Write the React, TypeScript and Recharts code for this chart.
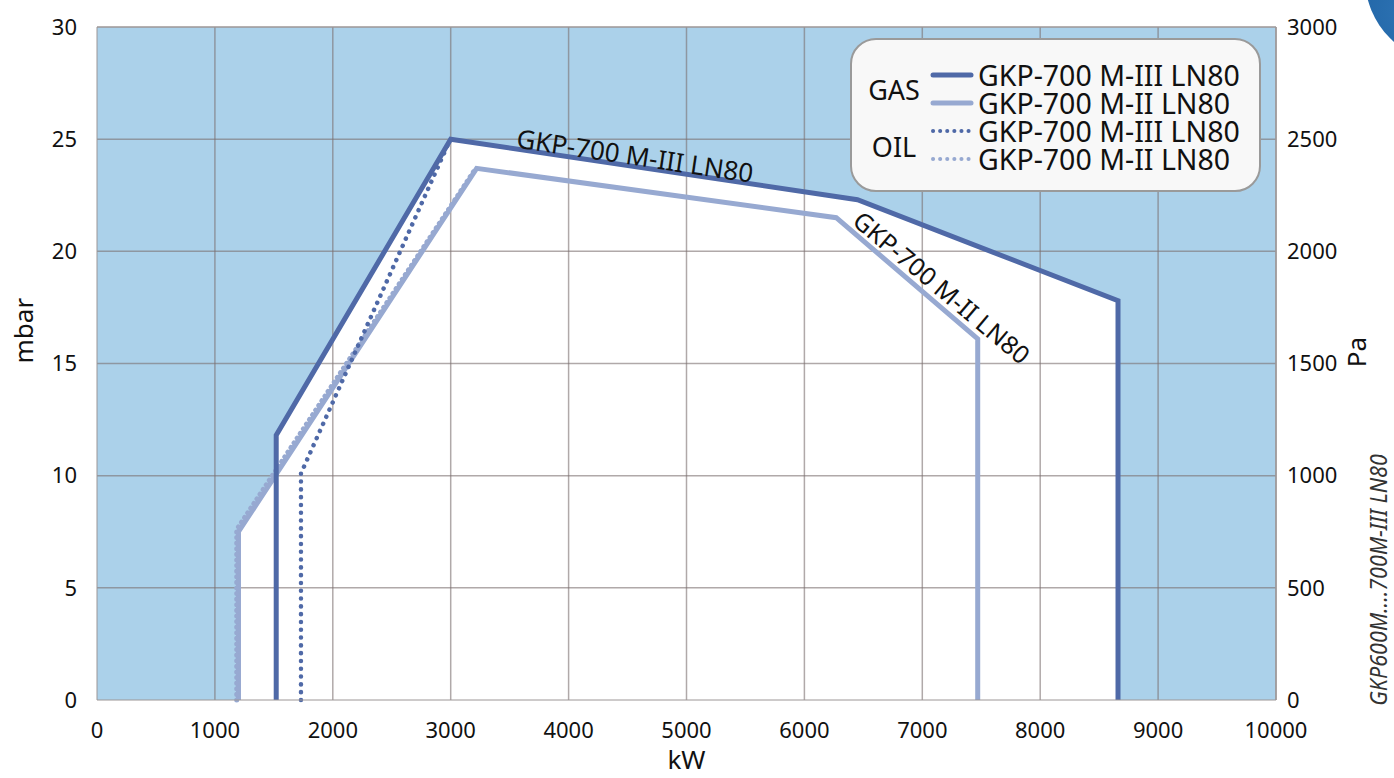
import React from 'react';
import {
  ComposedChart, Line, Area, XAxis, YAxis, CartesianGrid, ReferenceLine, ReferenceDot,
} from 'recharts';

// kW / mbar
const gasM3Kw = [1520, 1520, 3000, 6450, 8660, 8660];
const gasM3Mbar = [0, 11.8, 25, 22.3, 17.8, 0];
const gasM2Kw = [1200, 1200, 3220, 6270, 7470, 7470];
const gasM2Mbar = [0, 7.5, 23.7, 21.5, 16.1, 0];
const oilM3Kw = [1730, 1730, 2980];
const oilM3Mbar = [0, 10.1, 24.8];
const oilM2Kw = [1185, 1185, 3200];
const oilM2Mbar = [0, 7.6, 23.6];

const kwTicks = [0, 1000, 2000, 3000, 4000, 5000, 6000, 7000, 8000, 9000, 10000];
const mbarTicks = [0, 5, 10, 15, 20, 25, 30];
const paTicks = [0, 500, 1000, 1500, 2000, 2500, 3000];

const DARK = '#4f69a7';
const LIGHT = '#97a9d1';
const BG = '#abd1ea';
const FONT = '"Noto Sans", "Open Sans", sans-serif';

const toPts = (kw: number[], mbar: number[]) => kw.map((x, i) => ({ kw: x, mbar: mbar[i] }));

// white working field = union of both gas envelopes
const m2Slope = (gasM2Mbar[2] - gasM2Mbar[1]) / (gasM2Kw[2] - gasM2Kw[1]);
const crossMbar = gasM2Mbar[1] + (gasM3Kw[0] - gasM2Kw[1]) * m2Slope;
const fieldData = [
  { kw: gasM2Kw[0], mbar: gasM2Mbar[0] },
  { kw: gasM2Kw[1], mbar: gasM2Mbar[1] },
  { kw: gasM3Kw[0], mbar: crossMbar },
  ...toPts(gasM3Kw, gasM3Mbar).slice(1),
];

const tick = { fontSize: 22, fill: '#111', fontFamily: FONT };
const axisStroke = '#9c9696';

const curveLabel = (text: string, angle: number, size: number) => (p: any) => (
  <text
    x={p.cx} y={p.cy} textAnchor="middle" dominantBaseline="middle"
    transform={`rotate(${angle} ${p.cx} ${p.cy})`}
    fontSize={size} fontFamily={FONT} fill="#111"
  >{text}</text>
);

const legendRows = [
  { color: DARK, dash: false },
  { color: LIGHT, dash: false },
  { color: DARK, dash: true },
  { color: LIGHT, dash: true },
];
const legendCenters = [73, 101, 129, 157];

export default function App() {
  return (
    <div style={{ position: 'absolute', left: 0, top: 0, width: 1394, height: 778, background: '#fff', overflow: 'hidden' }}>
      <ComposedChart width={1394} height={778} margin={{ top: 27, right: 0, bottom: 0, left: 0 }}>
        <CartesianGrid fill={BG} fillOpacity={1} horizontal={false} vertical={false} yAxisId="mbar" />
        <XAxis
          dataKey="kw" type="number" domain={[0, 10000]} ticks={kwTicks} height={78}
          tick={tick} tickSize={0} tickMargin={22} stroke={axisStroke} allowDuplicatedCategory={false}
          label={{ value: 'kW', position: 'insideBottom', offset: 9, fontSize: 26, fill: '#111', fontFamily: FONT }}
        />
        <YAxis
          yAxisId="mbar" dataKey="mbar" type="number" domain={[0, 30]} ticks={mbarTicks} width={97}
          tick={tick} tickSize={0} tickMargin={20} stroke={axisStroke}
          label={{ value: 'mbar', angle: -90, position: 'insideLeft', offset: 24, fontSize: 26, fill: '#111', fontFamily: FONT }}
        />
        <YAxis
          yAxisId="pa" orientation="right" type="number" domain={[0, 3000]} ticks={paTicks} width={118}
          tick={{ ...tick, textAnchor: 'start' }} tickSize={0} tickMargin={11} stroke={axisStroke}
          allowDataOverflow
        />
        <Area
          yAxisId="mbar" data={fieldData} dataKey="mbar" type="linear" stroke="none"
          fill="#ffffff" fillOpacity={1} isAnimationActive={false}
        />
        {kwTicks.slice(1, -1).map((v) => (
          <ReferenceLine key={'x' + v} yAxisId="mbar" x={v} stroke="#7c6f6f" strokeOpacity={0.6} strokeWidth={1.5} />
        ))}
        {mbarTicks.slice(1, -1).map((v) => (
          <ReferenceLine key={'y' + v} yAxisId="mbar" y={v} stroke="#7c6f6f" strokeOpacity={0.6} strokeWidth={1.5} />
        ))}
        <ReferenceLine yAxisId="pa" y={3000} stroke={axisStroke} strokeWidth={1.5} />
        <ReferenceLine yAxisId="mbar" x={10000} stroke={axisStroke} strokeWidth={1.5} />
        <Line yAxisId="mbar" data={toPts(gasM2Kw, gasM2Mbar)} dataKey="mbar" type="linear" stroke={LIGHT} strokeWidth={5} dot={false} isAnimationActive={false} />
        <Line yAxisId="mbar" data={toPts(oilM2Kw, oilM2Mbar)} dataKey="mbar" type="linear" stroke={LIGHT} strokeWidth={5} strokeLinecap="round" strokeDasharray="0.1 5.5" dot={false} isAnimationActive={false} />
        <Line yAxisId="mbar" data={toPts(oilM3Kw, oilM3Mbar)} dataKey="mbar" type="linear" stroke={DARK} strokeWidth={4.5} strokeLinecap="round" strokeDasharray="0.1 7.7" dot={false} isAnimationActive={false} />
        <Line yAxisId="mbar" data={toPts(gasM3Kw, gasM3Mbar)} dataKey="mbar" type="linear" stroke={DARK} strokeWidth={5} dot={false} isAnimationActive={false} />
        <ReferenceDot yAxisId="mbar" x={4560} y={24.15} r={0} shape={curveLabel('GKP-700 M-III LN80', 8.5, 26)} />
        <ReferenceDot yAxisId="mbar" x={7150} y={18.3} r={0} shape={curveLabel('GKP-700 M-II LN80', 40, 25)} />
      </ComposedChart>

      {/* Pa axis title */}
      <div style={{
        position: 'absolute', left: 1356, top: 352, transform: 'translate(-50%, -50%) rotate(-90deg)',
        whiteSpace: 'nowrap', fontSize: 26, color: '#111', fontFamily: FONT,
      }}>Pa</div>

      {/* legend box */}
      <div style={{
        position: 'absolute', left: 850, top: 38, width: 411, height: 154, boxSizing: 'border-box',
        border: '2px solid #9a9a9a', borderRadius: 26, background: '#f8f8f8', fontFamily: FONT, color: '#111',
      }}>
        <div style={{ position: 'absolute', left: 42, top: 50, transform: 'translate(-50%, -50%)', fontSize: 27, lineHeight: '30px' }}>GAS</div>
        <div style={{ position: 'absolute', left: 42, top: 107, transform: 'translate(-50%, -50%)', fontSize: 27, lineHeight: '30px' }}>OIL</div>
        {legendRows.map((r, i) => (
          <div key={i} style={{ position: 'absolute', left: 78, top: legendCenters[i] - 38 - 14, height: 28, display: 'flex', alignItems: 'center' }}>
            <svg width={44} height={10}>
              <line x1={3} y1={5} x2={41} y2={5} stroke={r.color} strokeWidth={r.dash ? 4 : 5}
                strokeLinecap="round" strokeDasharray={r.dash ? '0.1 7' : undefined} />
            </svg>
            <span style={{ fontSize: 28.5, marginLeft: 4, lineHeight: '28px', whiteSpace: 'nowrap' }}>
              {i % 2 === 0 ? 'GKP-700 M-III LN80' : 'GKP-700 M-II LN80'}
            </span>
          </div>
        ))}
      </div>

      {/* side caption */}
      <div style={{
        position: 'absolute', left: 1378, top: 580, transform: 'translate(-50%, -50%) rotate(-90deg) scaleX(0.9)',
        whiteSpace: 'nowrap', fontStyle: 'italic', fontSize: 24, lineHeight: '26px', color: '#333', fontFamily: FONT,
      }}>GKP600M....700M-III LN80</div>

      {/* corner mark */}
      <div style={{
        position: 'absolute', left: 1365, top: -107, width: 170, height: 170, borderRadius: '50%',
        background: 'radial-gradient(circle at 30% 70%, #2f74b5, #0b4f8f)',
      }} />
    </div>
  );
}
